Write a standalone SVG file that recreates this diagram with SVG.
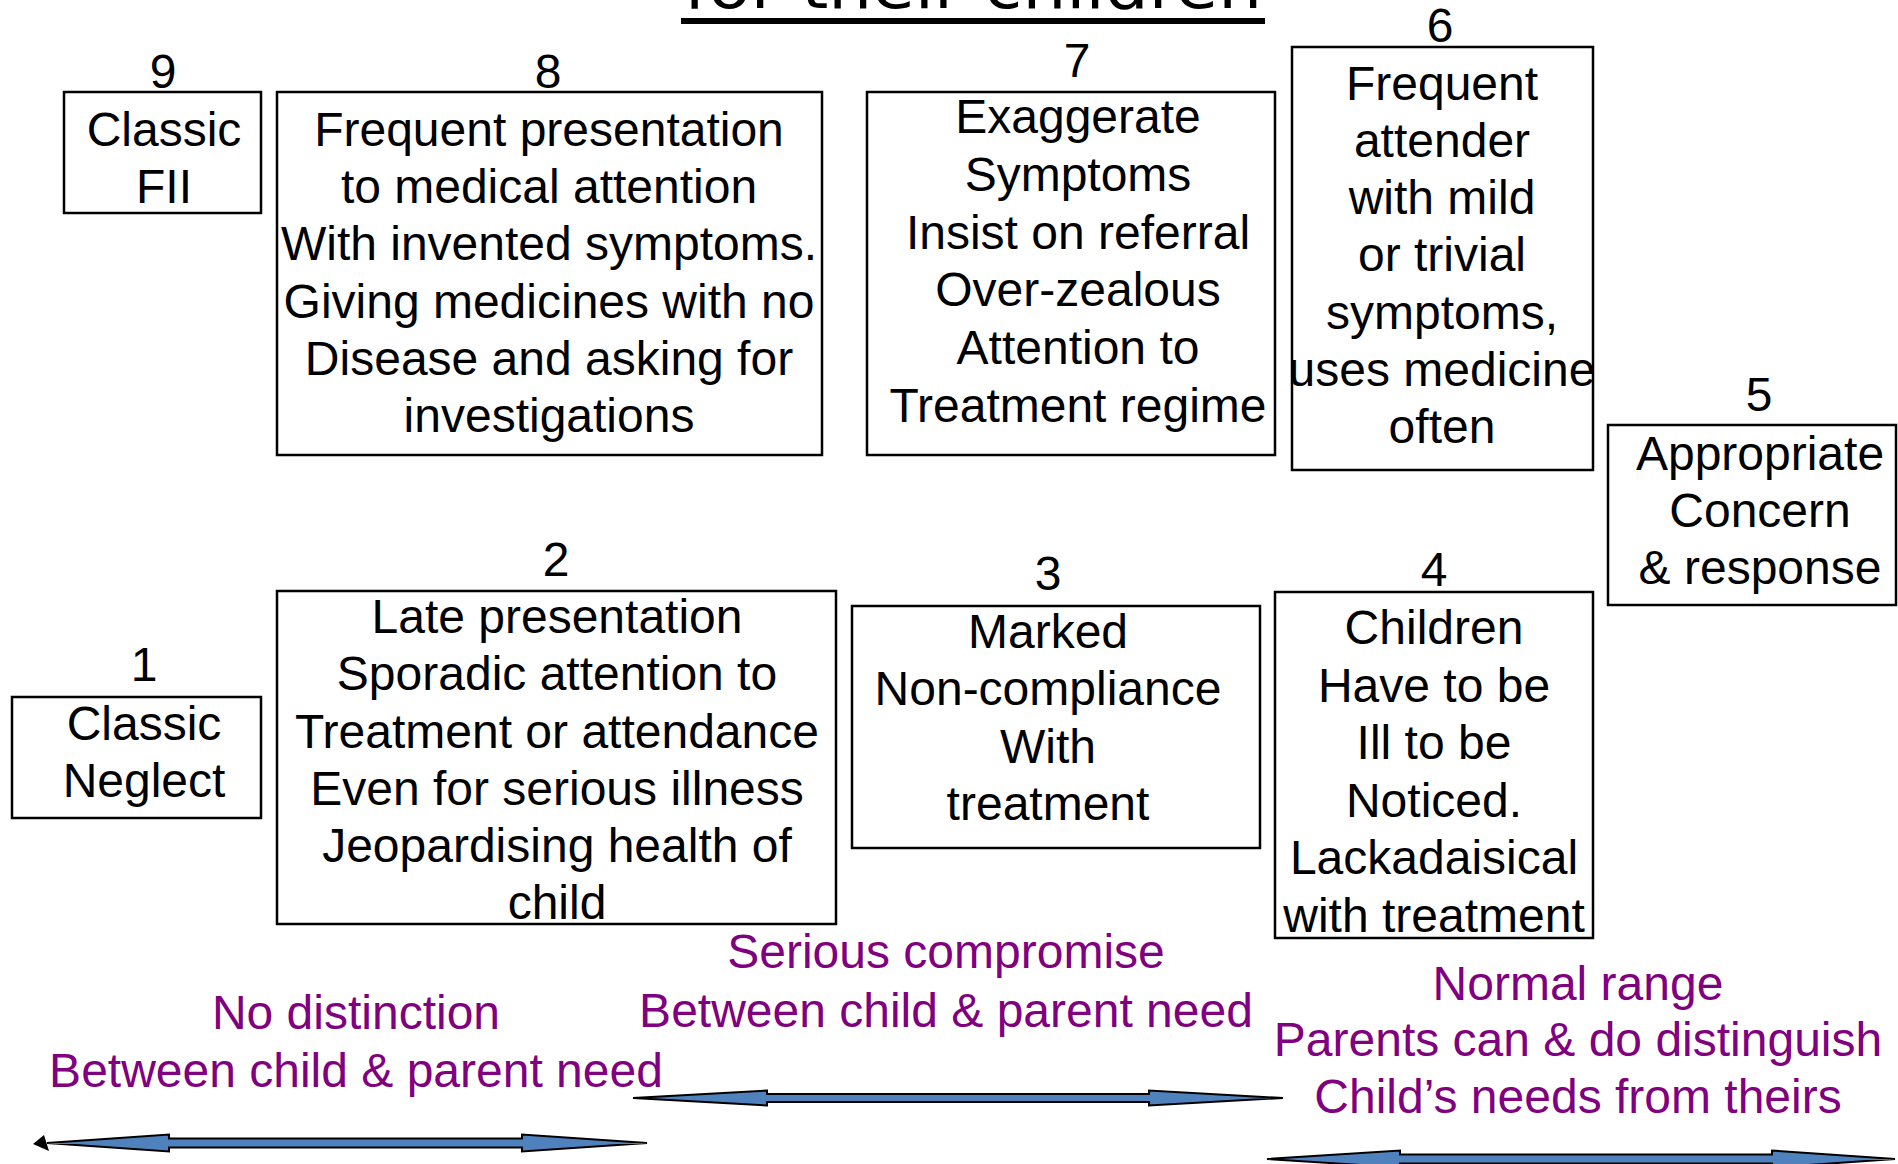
<svg xmlns="http://www.w3.org/2000/svg" width="1898" height="1164" viewBox="0 0 1898 1164">
<style>
.box{fill:#fff;stroke:#000;stroke-width:2.5}
.t{font-family:"Liberation Sans",Arial,sans-serif;font-size:48px;text-anchor:middle;fill:#000}
.p{fill:#800080}
.arr{fill:#4F81BD;stroke:#000;stroke-width:2;stroke-linejoin:miter}
</style>
<rect width="1898" height="1164" fill="#fff"/>
<g id="title">
<text x="973" y="8" font-family="DejaVu Sans,Verdana,sans-serif" font-size="62" text-anchor="middle" textLength="578" lengthAdjust="spacingAndGlyphs">for their children</text>
<rect x="681" y="18" width="584" height="6" fill="#000"/>
</g>
<g id="node9">
<text class="t" x="163" y="88">9</text>
<rect class="box" x="64" y="92" width="197" height="121"/>
<text class="t" x="164" y="146">Classic</text>
<text class="t" x="164" y="203">FII</text>
</g>
<g id="node8">
<text class="t" x="548" y="88">8</text>
<rect class="box" x="277" y="92" width="545" height="363"/>
<text class="t" x="549" y="146">Frequent presentation</text>
<text class="t" x="549" y="203">to medical attention</text>
<text class="t" x="549" y="260">With invented symptoms.</text>
<text class="t" x="549" y="318">Giving medicines with no</text>
<text class="t" x="549" y="375">Disease and asking for</text>
<text class="t" x="549" y="432">investigations</text>
</g>
<g id="node7">
<text class="t" x="1077" y="77">7</text>
<rect class="box" x="867" y="92" width="408" height="363"/>
<text class="t" x="1078" y="133">Exaggerate</text>
<text class="t" x="1078" y="191">Symptoms</text>
<text class="t" x="1078" y="249">Insist on referral</text>
<text class="t" x="1078" y="306">Over-zealous</text>
<text class="t" x="1078" y="364">Attention to</text>
<text class="t" x="1078" y="422">Treatment regime</text>
</g>
<g id="node6">
<text class="t" x="1440" y="42">6</text>
<rect class="box" x="1292" y="47" width="301" height="423"/>
<text class="t" x="1442" y="100">Frequent</text>
<text class="t" x="1442" y="157">attender</text>
<text class="t" x="1442" y="214">with mild</text>
<text class="t" x="1442" y="271">or trivial</text>
<text class="t" x="1442" y="329">symptoms,</text>
<text class="t" x="1442" y="386">uses medicine</text>
<text class="t" x="1442" y="443">often</text>
</g>
<g id="node5">
<text class="t" x="1759" y="411">5</text>
<rect class="box" x="1608" y="425" width="288" height="180"/>
<text class="t" x="1760" y="470">Appropriate</text>
<text class="t" x="1760" y="527">Concern</text>
<text class="t" x="1760" y="584">&amp; response</text>
</g>
<g id="node1">
<text class="t" x="144" y="681">1</text>
<rect class="box" x="12" y="697" width="249" height="121"/>
<text class="t" x="144" y="740">Classic</text>
<text class="t" x="144" y="797">Neglect</text>
</g>
<g id="node2">
<text class="t" x="556" y="576">2</text>
<rect class="box" x="277" y="591" width="559" height="333"/>
<text class="t" x="557" y="633">Late presentation</text>
<text class="t" x="557" y="690">Sporadic attention to</text>
<text class="t" x="557" y="748">Treatment or attendance</text>
<text class="t" x="557" y="805">Even for serious illness</text>
<text class="t" x="557" y="862">Jeopardising health of</text>
<text class="t" x="557" y="919">child</text>
</g>
<g id="node3">
<text class="t" x="1048" y="590">3</text>
<rect class="box" x="852" y="606" width="408" height="242"/>
<text class="t" x="1048" y="648">Marked</text>
<text class="t" x="1048" y="705">Non-compliance</text>
<text class="t" x="1048" y="763">With</text>
<text class="t" x="1048" y="820">treatment</text>
</g>
<g id="node4">
<text class="t" x="1434" y="586">4</text>
<rect class="box" x="1275" y="592" width="318" height="346"/>
<text class="t" x="1434" y="644">Children</text>
<text class="t" x="1434" y="702">Have to be</text>
<text class="t" x="1434" y="759">Ill to be</text>
<text class="t" x="1434" y="817">Noticed.</text>
<text class="t" x="1434" y="874">Lackadaisical</text>
<text class="t" x="1434" y="932">with treatment</text>
</g>
<g id="labels">
<text class="t p" x="356" y="1029">No distinction</text>
<text class="t p" x="356" y="1087">Between child &amp; parent need</text>
<text class="t p" x="946" y="968">Serious compromise</text>
<text class="t p" x="946" y="1027">Between child &amp; parent need</text>
<text class="t p" x="1578" y="1000">Normal range</text>
<text class="t p" x="1578" y="1056">Parents can &amp; do distinguish</text>
<text class="t p" x="1578" y="1113">Child’s needs from theirs</text>
</g>
<g id="connectors">
<polygon class="arr" points="47,1143 169,1134.5 169,1138.5 522,1138.5 522,1134.5 647,1143 522,1151.5 522,1147.5 169,1147.5 169,1151.5"/>
<polygon points="33,1144 44,1135 49,1151" fill="#000"/>
<polygon class="arr" points="633,1098 767,1090.5 767,1094 1149,1094 1149,1090.5 1283,1098 1149,1105.5 1149,1102 767,1102 767,1105.5"/>
<polygon class="arr" points="1267,1159 1400,1150.5 1400,1154.5 1772,1154.5 1772,1150.5 1895,1159 1772,1167.5 1772,1163.5 1400,1163.5 1400,1167.5"/>
</g>
</svg>
